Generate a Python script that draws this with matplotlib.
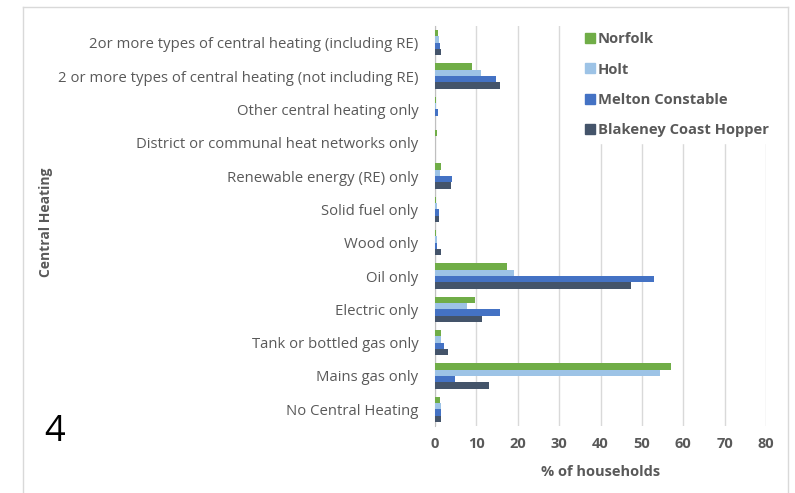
import numpy as np
import matplotlib.pyplot as plt
from matplotlib.lines import Line2D

plt.rcParams['font.family'] = ['Open Sans', 'DejaVu Sans']

categories = [
    "2or more types of central heating (including RE)",
    "2 or more types of central heating (not including RE)",
    "Other central heating only",
    "District or communal heat networks only",
    "Renewable energy (RE) only",
    "Solid fuel only",
    "Wood only",
    "Oil only",
    "Electric only",
    "Tank or bottled gas only",
    "Mains gas only",
    "No Central Heating",
]

norfolk = [0.8, 9.0, 0.3, 0.5, 1.5, 0.3, 0.3, 17.3, 9.7, 1.5, 57.0, 1.3]
holt = [1.0, 11.1, 0.2, 0.1, 1.2, 0.5, 0.6, 19.0, 7.8, 1.4, 54.4, 1.4]
melton = [1.3, 14.7, 0.8, 0.0, 4.2, 1.0, 0.5, 53.0, 15.7, 2.2, 4.8, 1.5]
blakeney = [1.5, 15.6, 0.0, 0.0, 3.8, 1.0, 1.5, 47.3, 11.4, 3.1, 13.0, 1.4]

series = [
    ("Norfolk", norfolk, "#70AD47"),
    ("Holt", holt, "#9DC3E6"),
    ("Melton Constable", melton, "#4472C4"),
    ("Blakeney Coast Hopper", blakeney, "#44546A"),
]

grey = "#595959"

fig = plt.figure(figsize=(7.95, 4.93), dpi=100)
ax = fig.add_axes([435 / 795, 1 - 426 / 493, (766 - 435) / 795, (426 - 26) / 493])

y = np.arange(len(categories))
h = 0.19
for i, (name, vals, col) in enumerate(series):
    ax.barh(y - 1.5 * h + i * h, vals, height=h, color=col, label=name, zorder=3)

ax.set_ylim(len(categories) - 0.5, -0.5)
ax.set_xlim(0, 80)
ax.set_xticks(np.arange(0, 81, 10))
ax.set_yticks(y)
ax.set_yticklabels(categories, fontsize=10.7, color=grey)
for lab in ax.get_xticklabels():
    lab.set_fontweight("bold")
ax.tick_params(axis="x", labelsize=10.5, colors=grey, length=0, pad=8)
ax.tick_params(axis="y", length=0, pad=12)
ax.grid(axis="x", color="#D9D9D9", linewidth=1, zorder=0)
for s in ["top", "right", "bottom"]:
    ax.spines[s].set_visible(False)
ax.spines["left"].set_color("#BFBFBF")
ax.set_xlabel("% of households", fontsize=10.5, fontweight="bold", color=grey, labelpad=10)

fig.text(46 / 795, 1 - 222 / 493, "Central Heating", rotation=90, ha="center", va="center",
         fontsize=10, fontweight="bold", color=grey)
fig.text(55 / 795, 1 - 432 / 493, "4", ha="center", va="center", fontsize=26, color="black")

handles = [Line2D([], [], marker="s", linestyle="none", markersize=7, color=c) for _, _, c in series]
leg = ax.legend(handles, [n for n, _, _ in series], loc="upper left",
                bbox_to_anchor=((572 - 435) / 331, 1.01), frameon=True, fancybox=False,
                edgecolor="white", framealpha=1, handletextpad=0.05, handlelength=1.0,
                labelspacing=1.1, borderaxespad=0.3, prop={"weight": "bold", "size": 10.6})
for t in leg.get_texts():
    t.set_color(grey)
leg.set_zorder(5)

# chart frame
fig.add_artist(Line2D([23 / 795, 23 / 795], [0, 1 - 7 / 493], color="#D9D9D9", lw=1))
fig.add_artist(Line2D([788 / 795, 788 / 795], [0, 1 - 7 / 493], color="#D9D9D9", lw=1))
fig.add_artist(Line2D([23 / 795, 788 / 795], [1 - 7 / 493, 1 - 7 / 493], color="#D9D9D9", lw=1))

fig.savefig("out.png", dpi=100)
